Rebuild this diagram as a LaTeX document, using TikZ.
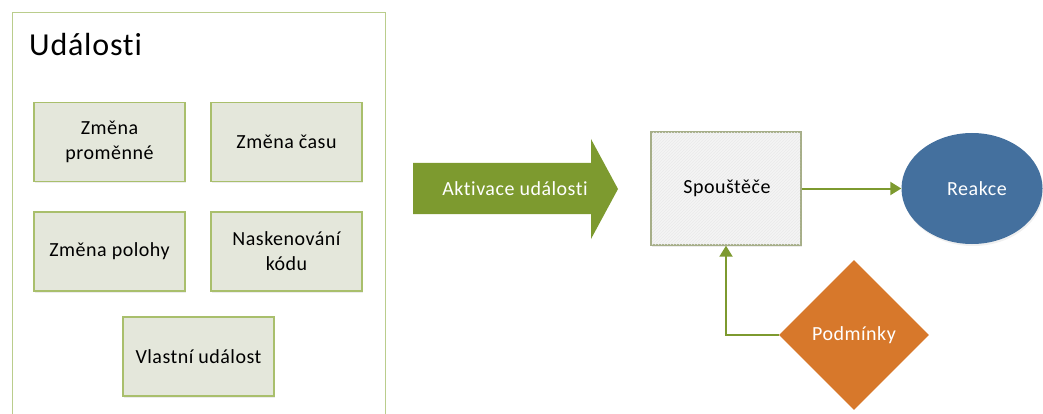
\documentclass[tikz,border=0pt]{standalone}
\usepackage{fontspec}
\setmainfont{Carlito}[LetterSpace=2.5, Ligatures=NoCommon]
\usetikzlibrary{shapes.geometric,shadows,patterns,arrows.meta}
\definecolor{olive}{HTML}{7D9A2F}
\definecolor{boxfill}{HTML}{E4E7DB}
\definecolor{boxline}{HTML}{A9BF6C}
\definecolor{outerline}{HTML}{BACD8C}
\definecolor{trigline}{HTML}{A6AE88}
\definecolor{trigfill}{HTML}{F4F4F4}
\definecolor{hatch}{HTML}{EAEAEA}
\definecolor{reakce}{HTML}{44709E}
\definecolor{podm}{HTML}{D7782B}
\tikzset{
  evbox/.style={draw=boxline, line width=1.4pt, fill=boxfill, minimum width=151pt, minimum height=79pt,
    align=center, font=\fontsize{20}{25}\selectfont, inner sep=0pt,
    drop shadow={shadow xshift=1pt, shadow yshift=-2pt, opacity=0.15}},
  conn/.style={draw=olive, line width=2pt, -{Triangle[length=11pt,width=13pt]}},
  whitetxt/.style={text=white, font=\fontsize{20}{24}\selectfont}
}
\begin{document}
\begin{tikzpicture}[x=1pt,y=-1pt]
\useasboundingbox (0,0) rectangle (1043,414);
\clip (0,0) rectangle (1043,414);
% outer box
\node[draw=outerline, line width=1.4pt, minimum width=373pt, minimum height=420pt, inner sep=0pt, anchor=north west] (outer) at (12,12) {};
\node[anchor=base west, font=\fontsize{32}{34}\selectfont, inner sep=0pt] (title) at (29,56) {Události};
% event boxes
\node[evbox] (b1) at (109.5,142) {Změna\\proměnné};
\node[evbox] (b2) at (286.5,142) {Změna času};
\node[evbox] (b3) at (109.5,251.5) {Změna polohy};
\node[evbox] (b4) at (286.5,251.5) {Naskenování\\kódu};
\node[evbox] (b5) at (198.5,356.5) {Vlastní událost};
% big arrow
\fill[olive] (413,163) -- (591,163) -- (591,139) -- (618,189) -- (591,239) -- (591,214) -- (413,214) -- cycle;
\node[whitetxt] (akt) at (515,189) {Aktivace události};
% trigger box
\node[draw=trigline, line width=1.4pt, fill=trigfill, minimum width=150pt, minimum height=113pt, inner sep=0pt,
  drop shadow={shadow xshift=1pt, shadow yshift=-2pt, opacity=0.15}] (sp) at (726,188.5) {};
\fill[pattern=north east lines, pattern color=hatch] (652,133) rectangle (800,244);
\node[font=\fontsize{20}{24}\selectfont] (sptxt) at (727,188.5) {Spouštěče};
% reakce
\node[ellipse, fill=reakce, minimum width=141pt, minimum height=111pt, inner sep=0pt,
  drop shadow={shadow xshift=1pt, shadow yshift=-2pt, opacity=0.12}] (re) at (972,188.5) {};
\node[whitetxt] (retxt) at (977,188.5) {Reakce};
% podminky
\node[diamond, fill=podm, minimum width=150pt, minimum height=150pt, inner sep=0pt, aspect=1,
  whitetxt] (po) at (854,335) {Podmínky};
% connectors
\draw[conn] (sp.east) -- (re.west);
\draw[conn] (po.west) -| (sp.south);
\end{tikzpicture}
\end{document}
